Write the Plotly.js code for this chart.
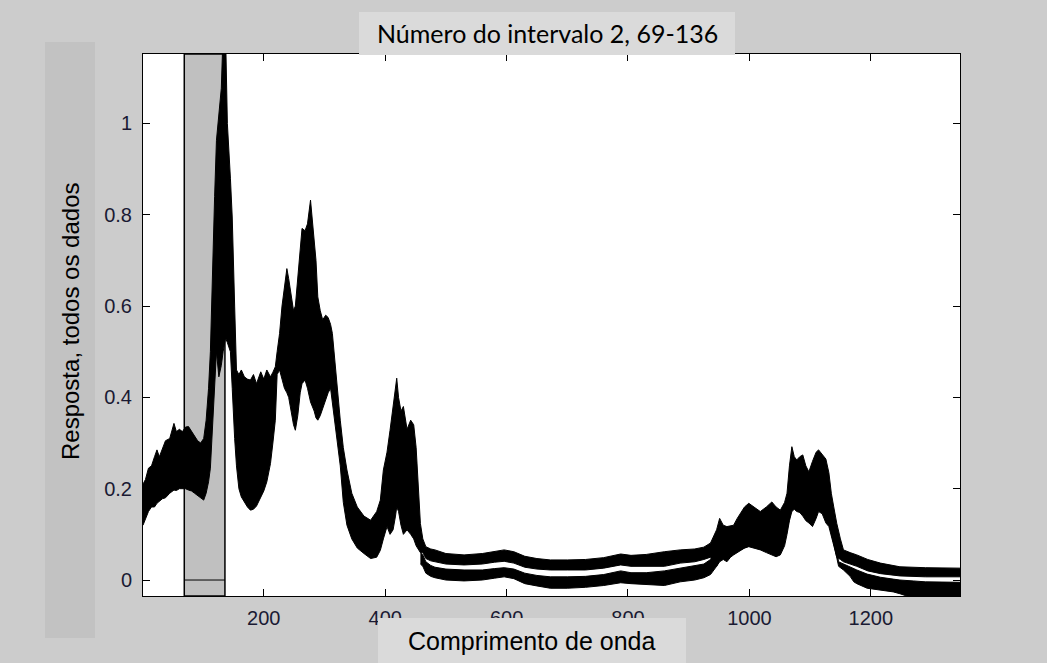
<!DOCTYPE html>
<html>
<head>
<meta charset="utf-8">
<script src="https://cdn.plot.ly/plotly-3.0.1.min.js"></script>
<style>html,body{margin:0;padding:0;background:#cccccc;}#chart{width:1047px;height:663px;}</style>
</head>
<body>
<div id="chart"></div>
<script>
// Main band (upper group / merged envelope)
const wl = [1,5,10,15,20,24,28,33,38,45,52,56,61,66,71,76,81,86,91,96,101,105,109,112,114,116,119,122,126,130,133,137,140,142,145,148,150,152,155,159,163,168,173,178,183,188,195,200,205,211,215,219,222,226,230,234,238,241,245,249,252,256,260,263,268,272,277,280,283,286,289,293,297,302,306,310,313,318,322,326,331,337,345,354,365,376,386,392,397,403,408,413,417,419,422,426,430,436,442,447,451,455,458,462,467,475,482,500,530,560,580,596,612,630,650,672,700,730,760,788,805,830,860,886,910,925,936,943,946,951,957,963,969,974,980,985,992,999,1008,1018,1028,1037,1044,1051,1058,1062,1066,1070,1074,1078,1083,1088,1093,1098,1104,1110,1114,1120,1126,1131,1135,1139,1144,1150,1155,1166,1177,1195,1216,1248,1290,1347];
const hi = [0.21,0.22,0.245,0.25,0.27,0.285,0.27,0.29,0.305,0.31,0.343,0.325,0.33,0.325,0.335,0.336,0.325,0.315,0.305,0.30,0.31,0.35,0.42,0.5,0.6,0.73,0.84,0.963,1.02,1.077,1.2,1.2,1.0,0.956,0.88,0.795,0.72,0.6,0.46,0.45,0.46,0.445,0.44,0.438,0.45,0.43,0.456,0.44,0.46,0.445,0.455,0.467,0.5,0.54,0.6,0.64,0.682,0.66,0.62,0.59,0.60,0.66,0.73,0.77,0.765,0.78,0.832,0.79,0.75,0.70,0.62,0.59,0.57,0.58,0.575,0.56,0.54,0.46,0.40,0.35,0.29,0.241,0.19,0.16,0.14,0.131,0.15,0.175,0.241,0.28,0.328,0.38,0.43,0.442,0.40,0.37,0.38,0.33,0.35,0.34,0.29,0.20,0.124,0.09,0.073,0.068,0.066,0.058,0.055,0.058,0.063,0.066,0.062,0.052,0.047,0.044,0.044,0.045,0.049,0.057,0.054,0.056,0.062,0.066,0.068,0.072,0.081,0.10,0.11,0.135,0.12,0.117,0.118,0.12,0.135,0.145,0.16,0.168,0.16,0.15,0.16,0.171,0.16,0.153,0.17,0.19,0.25,0.292,0.27,0.263,0.27,0.274,0.25,0.237,0.26,0.28,0.285,0.275,0.265,0.235,0.19,0.16,0.124,0.09,0.066,0.06,0.055,0.045,0.037,0.029,0.027,0.026];
const lo = [0.12,0.135,0.15,0.16,0.16,0.168,0.172,0.178,0.18,0.19,0.197,0.196,0.2,0.2,0.2,0.197,0.195,0.19,0.185,0.178,0.175,0.19,0.215,0.245,0.3,0.36,0.45,0.5,0.445,0.47,0.5,0.53,0.52,0.51,0.50,0.42,0.36,0.31,0.25,0.2,0.182,0.17,0.16,0.153,0.155,0.162,0.182,0.195,0.215,0.255,0.30,0.35,0.45,0.46,0.44,0.42,0.41,0.40,0.37,0.34,0.328,0.36,0.41,0.43,0.438,0.42,0.39,0.38,0.37,0.355,0.35,0.36,0.375,0.394,0.41,0.42,0.39,0.34,0.29,0.25,0.17,0.12,0.09,0.07,0.058,0.047,0.05,0.065,0.09,0.117,0.10,0.11,0.14,0.16,0.15,0.12,0.10,0.11,0.10,0.09,0.075,0.065,0.06,0.06,0.047,0.042,0.04,0.035,0.033,0.035,0.039,0.041,0.037,0.028,0.024,0.022,0.022,0.022,0.026,0.033,0.030,0.030,0.030,0.037,0.040,0.045,0.05,0.035,0.03,0.04,0.045,0.04,0.05,0.055,0.06,0.065,0.07,0.073,0.07,0.066,0.06,0.055,0.051,0.055,0.075,0.10,0.13,0.15,0.155,0.15,0.148,0.14,0.13,0.125,0.117,0.135,0.15,0.145,0.125,0.117,0.095,0.073,0.05,0.045,0.04,0.035,0.03,0.02,0.014,0.009,0.007,0.007];

// Lower group of spectra (separates from about 458 onwards)
const wlB = [458,462,467,475,482,500,530,560,580,596,612,630,650,672,700,730,760,788,805,830,860,886,910,925,936,946,951,1000,1050,1062,1070,1104,1114,1126,1131,1139,1147,1155,1166,1172,1177,1194,1216,1237,1248,1270,1290,1347];
const bHi = [0.06,0.055,0.04,0.032,0.028,0.024,0.022,0.022,0.025,0.027,0.024,0.015,0.01,0.007,0.007,0.008,0.012,0.02,0.016,0.016,0.02,0.026,0.03,0.035,0.045,0.07,0.09,0.12,0.12,0.15,0.2,0.2,0.2,0.2,0.18,0.1,0.04,0.035,0.028,0.025,0.022,0.013,0.006,0.002,0.0,-0.002,-0.004,-0.005];
const bLo = [0.035,0.03,0.015,0.008,0.005,0.0,-0.002,0.0,0.004,0.007,0.003,-0.008,-0.013,-0.018,-0.018,-0.016,-0.012,-0.006,-0.008,-0.01,-0.012,-0.004,0.0,0.005,0.012,0.03,0.045,0.075,0.06,0.11,0.16,0.13,0.16,0.14,0.125,0.08,0.03,0.022,0.008,-0.004,-0.008,-0.018,-0.022,-0.026,-0.03,-0.04,-0.04,-0.04];

const interval = [69, 136];
const xTicks = [200, 400, 600, 800, 1000, 1200];
const yTicks = [0, 0.2, 0.4, 0.6, 0.8, 1];
const yTickText = ['0', '0.2', '0.4', '0.6', '0.8', '1'];

const L = 143, R = 960, T = 54, B = 596;
const W = R - L, H = B - T;
const px = v => (v - L) / W;
const py = v => (B - v) / H;

const lineStyle = {color: '#000000', width: 1};
const traces = [
  {x: wl, y: lo, mode: 'lines', line: lineStyle, hoverinfo: 'skip'},
  {x: wl, y: hi, mode: 'lines', line: lineStyle, fill: 'tonexty', fillcolor: '#000000', hoverinfo: 'skip'},
  {x: wlB, y: bLo, mode: 'lines', line: lineStyle, hoverinfo: 'skip'},
  {x: wlB, y: bHi, mode: 'lines', line: lineStyle, fill: 'tonexty', fillcolor: '#000000', hoverinfo: 'skip'}
];

const sansFont = 'Arial, "Liberation Sans", sans-serif';
const tickFont = {family: sansFont, size: 20, color: '#1a1a33'};
const axisBase = {
  showgrid: false, zeroline: false, showline: true, linecolor: '#000000', linewidth: 1,
  mirror: 'ticks', ticks: 'inside', ticklen: 7, tickwidth: 1, tickcolor: '#000000',
  tickfont: tickFont
};

const layout = {
  width: 1047, height: 663,
  paper_bgcolor: '#cccccc', plot_bgcolor: '#ffffff',
  margin: {l: L, r: 1047 - R, t: T, b: 663 - B, pad: 0},
  showlegend: false,
  xaxis: Object.assign({}, axisBase, {range: [1, 1347], tickmode: 'array', tickvals: xTicks, ticklabelstandoff: 4}),
  yaxis: Object.assign({}, axisBase, {range: [-0.035, 1.152], tickmode: 'array', tickvals: yTicks, ticktext: yTickText, ticklabelstandoff: 6}),
  shapes: [
    {type: 'rect', xref: 'x', yref: 'paper', x0: interval[0], x1: interval[1], y0: 0, y1: 1,
     fillcolor: '#c0c0c0', line: {color: '#000000', width: 1.5}, layer: 'below'},
    {type: 'line', xref: 'x', yref: 'y', x0: interval[0], x1: interval[1], y0: 0, y1: 0,
     line: {color: '#000000', width: 1}, layer: 'below'},
    {type: 'rect', xref: 'paper', yref: 'paper', x0: px(359), x1: px(735), y0: py(55), y1: py(12),
     fillcolor: '#dadada', line: {width: 0}, layer: 'above'},
    {type: 'rect', xref: 'paper', yref: 'paper', x0: px(45), x1: px(95), y0: py(638), y1: py(42),
     fillcolor: '#c2c2c2', line: {width: 0}, layer: 'above'},
    {type: 'rect', xref: 'paper', yref: 'paper', x0: px(378), x1: px(686), y0: py(670), y1: py(618),
     fillcolor: '#dadada', line: {width: 0}, layer: 'above'}
  ],
  annotations: [
    {xref: 'paper', yref: 'paper', x: px(547), y: py(33), xanchor: 'center', yanchor: 'middle',
     text: 'Número do intervalo 2, ' + interval[0] + '-' + interval[1], showarrow: false,
     font: {family: 'Lato, "Liberation Sans", sans-serif', size: 25, color: '#000000'}},
    {xref: 'paper', yref: 'paper', x: px(531), y: py(641), xanchor: 'center', yanchor: 'middle',
     text: 'Comprimento de onda', showarrow: false,
     font: {family: sansFont, size: 25, color: '#000000'}},
    {xref: 'paper', yref: 'paper', x: px(70), y: py(321), xanchor: 'center', yanchor: 'middle',
     text: 'Resposta, todos os dados', showarrow: false, textangle: -90,
     font: {family: sansFont, size: 24, color: '#000000'}}
  ]
};

Plotly.newPlot('chart', traces, layout, {displayModeBar: false, staticPlot: true});
</script>
</body>
</html>
